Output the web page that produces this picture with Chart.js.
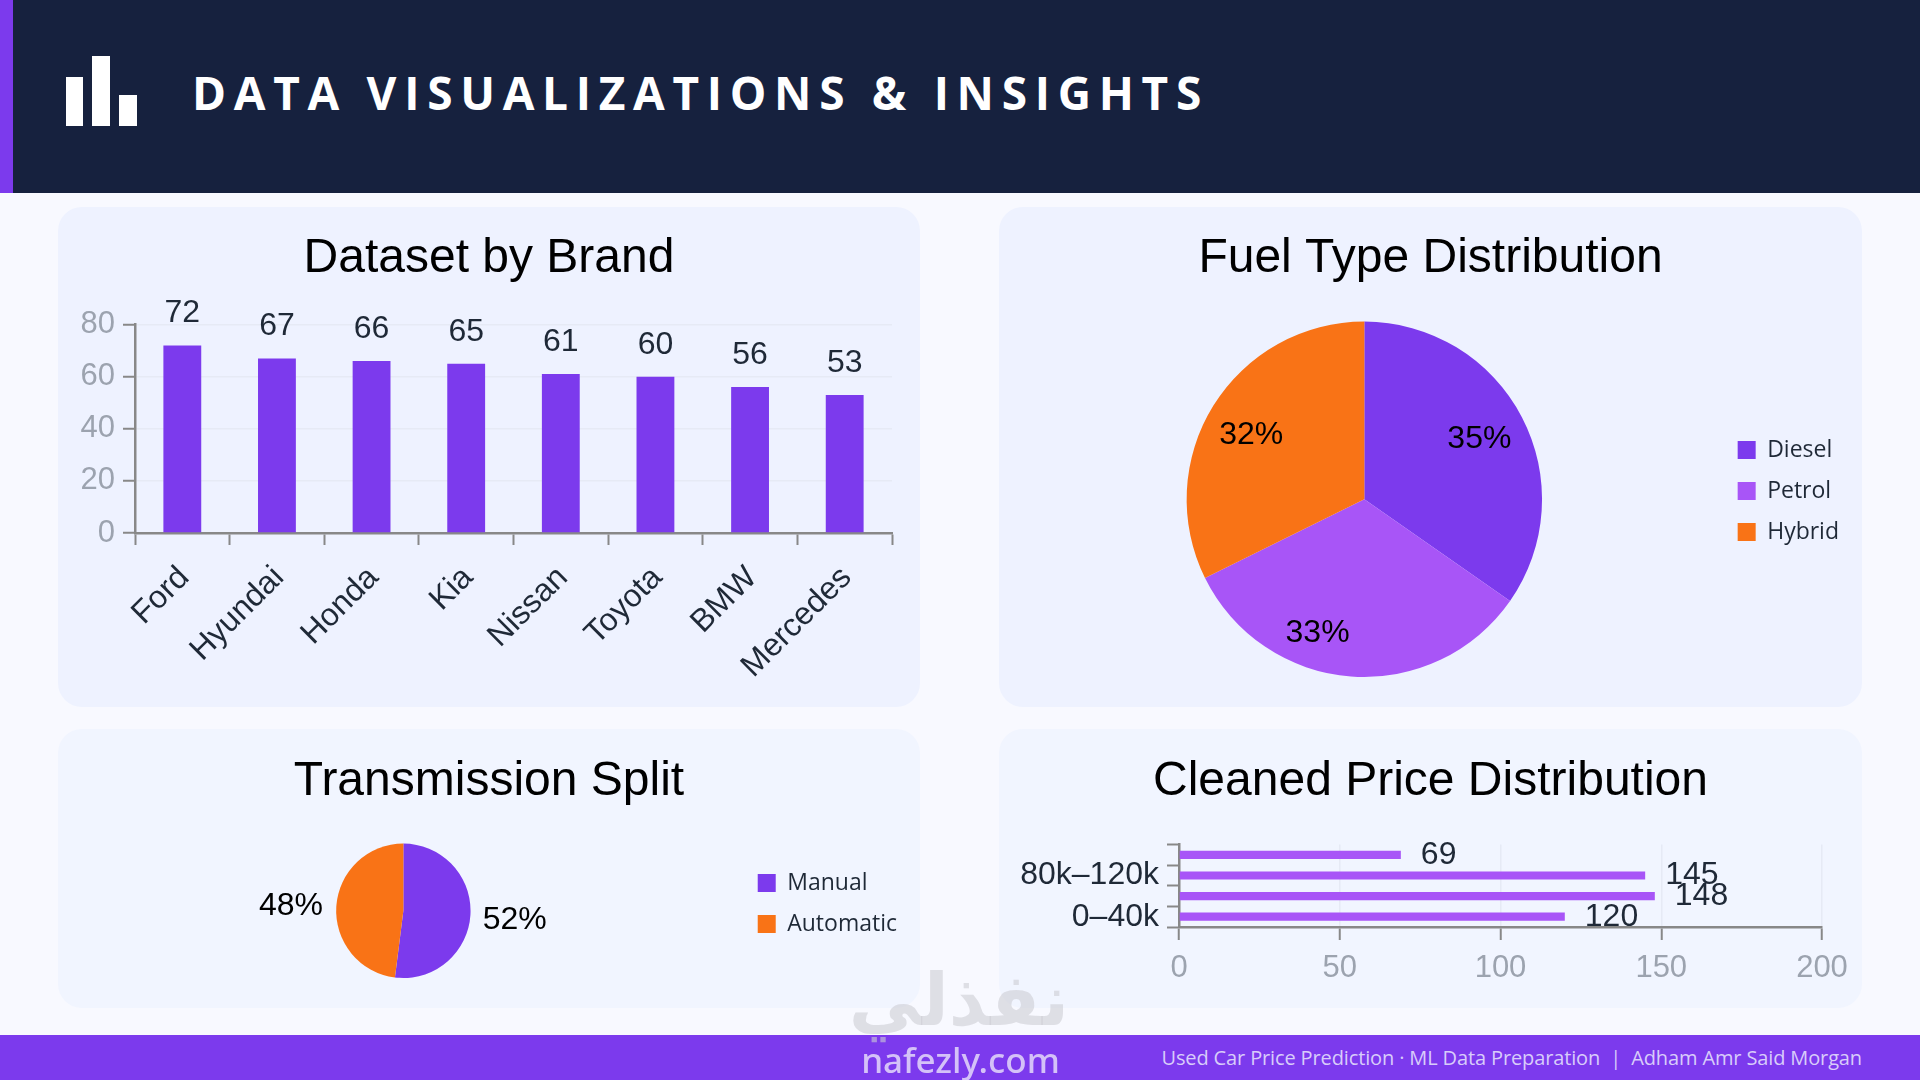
<!DOCTYPE html>
<html lang="en">
<head>
  <meta charset="UTF-8">
  <title>Data Visualizations &amp; Insights</title>
  <script src="https://cdn.jsdelivr.net/npm/chart.js"></script>
  <style>
    html, body { margin: 0; padding: 0; }
    body { width: 1920px; height: 1080px; position: relative; overflow: hidden; background: #F8F9FF; font-family: "Open Sans", sans-serif; }
    .header { position: absolute; left: 0; top: 0; width: 1920px; height: 193px; background: #16213E; }
    .accent { position: absolute; left: 0; top: 0; width: 13px; height: 193px; background: #7C3AED; }
    .icon div { position: absolute; background: #fff; }
    .heading { position: absolute; left: 192px; top: 60px; font-size: 46px; line-height: 64px; font-weight: 700; letter-spacing: 7.7px; color: #fff; white-space: nowrap; }
    .card { position: absolute; background: #EEF2FF; border-radius: 24px; }
    .card.low { background: #F1F5FF; }
    canvas { position: absolute; left: 0; top: 0; }
    .footer { position: absolute; left: 0; top: 1035px; width: 1920px; height: 45px; background: #7C3AED; }
    .credit { position: absolute; right: 58px; top: 9px; font-size: 20px; line-height: 28px; letter-spacing: -0.13px; color: #D8CCFA; white-space: pre; }
    .mark-ar { position: absolute; left: 843px; top: 950px; width: 232px; text-align: center; font-family: "DejaVu Sans", sans-serif; font-weight: bold; font-size: 72px; line-height: 100px; color: rgba(205,205,212,.6); direction: rtl; }
    .mark-en { position: absolute; left: 860px; top: 1039px; width: 201px; text-align: center; font-family: "Noto Sans", sans-serif; font-weight: 500; font-size: 35px; line-height: 42px; color: rgba(222,208,248,.9); white-space: nowrap; }
  </style>
</head>
<body>
  <div class="header">
    <div class="accent"></div>
    <div class="icon">
      <div style="left:66px;top:77px;width:17px;height:49px"></div>
      <div style="left:92px;top:56px;width:18px;height:70px"></div>
      <div style="left:119px;top:95px;width:18px;height:31px"></div>
    </div>
    <div class="heading">DATA VISUALIZATIONS &amp; INSIGHTS</div>
  </div>

  <div class="card" style="left:58px;top:207px;width:862px;height:500px"><canvas id="brandChart" width="862" height="500"></canvas></div>
  <div class="card" style="left:999px;top:207px;width:863px;height:500px"><canvas id="fuelChart" width="863" height="500"></canvas></div>
  <div class="card low" style="left:58px;top:729px;width:862px;height:279px"><canvas id="gearChart" width="862" height="279"></canvas></div>
  <div class="card low" style="left:999px;top:729px;width:863px;height:279px"><canvas id="priceChart" width="863" height="279"></canvas></div>

  <div class="footer">
    <div class="credit">Used Car Price Prediction · ML Data Preparation  |  Adham Amr Said Morgan</div>
  </div>
  <div class="mark-ar">نفذلي</div>
  <div class="mark-en">nafezly.com</div>

  <script>
    const brands = ['Ford', 'Hyundai', 'Honda', 'Kia', 'Nissan', 'Toyota', 'BMW', 'Mercedes'];
    const brandCounts = [72, 67, 66, 65, 61, 60, 56, 53];

    const fuelTypes = ['Diesel', 'Petrol', 'Hybrid'];
    const fuelShares = [34.7, 33, 32.3];

    const gearTypes = ['Manual', 'Automatic'];
    const gearShares = [52, 48];

    const priceBands = ['0–40k', '40k–80k', '80k–120k', '120k+'];
    const priceCounts = [120, 148, 145, 69];

    const PURPLE = '#7C3AED';
    const VIOLET = '#A855F7';
    const ORANGE = '#F97316';
    const AXIS = '#888888';
    const GRID = '#E6EAF5';
    const MUTED = '#9CA3AF';
    const DARK = '#1F2937';
    const FONT = '"Liberation Sans", Arial, sans-serif';

    Chart.defaults.animation = false;
    Chart.defaults.responsive = false;
    Chart.defaults.font.family = FONT;

    function titleOptions(text, top, bottom) {
      return {
        display: true,
        text: text,
        color: '#000000',
        font: { size: 48, weight: 'normal', family: FONT },
        padding: { top: top, bottom: bottom }
      };
    }

    function legendOptions() {
      return {
        position: 'right',
        labels: {
          boxWidth: 18,
          boxHeight: 18,
          padding: 18,
          color: DARK,
          font: { size: 23, family: '"Open Sans", sans-serif' }
        }
      };
    }

    // value labels above / beside the bars
    const barValues = {
      id: 'barValues',
      afterDatasetsDraw(chart) {
        const ctx = chart.ctx;
        const horizontal = chart.options.indexAxis === 'y';
        ctx.save();
        ctx.font = '32px ' + FONT;
        ctx.fillStyle = DARK;
        ctx.textBaseline = 'middle';
        ctx.textAlign = horizontal ? 'left' : 'center';
        chart.getDatasetMeta(0).data.forEach((bar, i) => {
          const v = chart.data.datasets[0].data[i];
          if (horizontal) ctx.fillText(v, bar.x + 20, bar.y);
          else ctx.fillText(v, bar.x, bar.y - 32);
        });
        ctx.restore();
      }
    };

    // percent labels on the pies
    const pieLabels = {
      id: 'pieLabels',
      afterDatasetsDraw(chart, args, opts) {
        const ctx = chart.ctx;
        const meta = chart.getDatasetMeta(0);
        const data = chart.data.datasets[0].data;
        ctx.save();
        ctx.font = '32px ' + FONT;
        ctx.fillStyle = '#000000';
        ctx.textAlign = 'center';
        ctx.textBaseline = 'middle';
        meta.data.forEach((arc, i) => {
          const mid = (arc.startAngle + arc.endAngle) / 2;
          const r = arc.outerRadius * opts.radius;
          const x = arc.x + Math.cos(mid) * r + opts.nudgeX[i];
          const y = arc.y + Math.sin(mid) * r + opts.nudgeY[i];
          ctx.fillText(Math.round(data[i]) + '%', x, y);
        });
        ctx.restore();
      }
    };

    // title stays centred on the card, legend sits lower than chart.js puts it
    const cardLayout = {
      id: 'cardLayout',
      afterLayout(chart, args, opts) {
        chart.titleBlock.left = 0;
        chart.titleBlock.right = chart.width;
        if (opts.legendDy) {
          chart.legend.top += opts.legendDy;
          chart.legend.bottom += opts.legendDy;
        }
      }
    };

    new Chart(document.getElementById('brandChart'), {
      type: 'bar',
      data: {
        labels: brands,
        datasets: [{ data: brandCounts, backgroundColor: PURPLE, barPercentage: 0.4, categoryPercentage: 1 }]
      },
      options: {
        layout: { autoPadding: false, padding: { right: 28 } },
        plugins: {
          legend: { display: false },
          tooltip: { enabled: false },
          title: titleOptions('Dataset by Brand', 23, 37)
        },
        scales: {
          x: {
            afterFit: s => { s.height = 174; },
            grid: { drawOnChartArea: false, tickColor: AXIS, tickLength: 12, tickWidth: 2 },
            border: { color: AXIS, width: 2.5 },
            ticks: { color: DARK, font: { size: 32 }, minRotation: 45, maxRotation: 45, padding: 14, labelOffset: 2, autoSkip: false }
          },
          y: {
            min: 0,
            max: 80,
            afterFit: s => { s.width = 77; },
            grid: { color: GRID, tickColor: AXIS, tickLength: 12, lineWidth: 1.5, tickWidth: 2 },
            border: { color: AXIS, width: 2.5 },
            ticks: { stepSize: 20, color: MUTED, font: { size: 31 }, padding: 8 }
          }
        }
      },
      plugins: [barValues, cardLayout]
    });

    new Chart(document.getElementById('fuelChart'), {
      type: 'pie',
      data: {
        labels: fuelTypes,
        datasets: [{ data: fuelShares, backgroundColor: [PURPLE, VIOLET, ORANGE], borderWidth: 0 }]
      },
      options: {
        layout: { autoPadding: false, padding: { left: 10, right: 13, bottom: 30 } },
        plugins: {
          legend: legendOptions(),
          tooltip: { enabled: false },
          title: titleOptions('Fuel Type Distribution', 23, 34),
          pieLabels: { radius: 0.73, nudgeX: [0, -37, -3], nudgeY: [0, 5, 4] },
          cardLayout: { legendDy: 49 }
        }
      },
      plugins: [pieLabels, cardLayout]
    });

    new Chart(document.getElementById('gearChart'), {
      type: 'pie',
      data: {
        labels: gearTypes,
        datasets: [{ data: gearShares, backgroundColor: [PURPLE, ORANGE], borderWidth: 0 }]
      },
      options: {
        layout: { autoPadding: false, padding: { left: 9, right: 13, bottom: 30 } },
        plugins: {
          legend: legendOptions(),
          tooltip: { enabled: false },
          title: titleOptions('Transmission Split', 24, 33),
          pieLabels: { radius: 1.66, nudgeX: [0, -1], nudgeY: [2, 2] },
          cardLayout: { legendDy: 50 }
        }
      },
      plugins: [pieLabels, cardLayout]
    });

    new Chart(document.getElementById('priceChart'), {
      type: 'bar',
      data: {
        labels: priceBands,
        datasets: [{ data: priceCounts, backgroundColor: VIOLET, barPercentage: 0.4, categoryPercentage: 1 }]
      },
      options: {
        indexAxis: 'y',
        layout: { autoPadding: false, padding: { right: 40 } },
        plugins: {
          legend: { display: false },
          tooltip: { enabled: false },
          title: titleOptions('Cleaned Price Distribution', 24, 34)
        },
        scales: {
          x: {
            min: 0,
            max: 200,
            afterFit: s => { s.height = 81; },
            grid: { color: GRID, tickColor: AXIS, tickLength: 13, lineWidth: 1.5, tickWidth: 2 },
            border: { color: AXIS, width: 2.5 },
            ticks: { stepSize: 50, color: MUTED, font: { size: 31 }, padding: 10, maxRotation: 0 }
          },
          y: {
            reverse: true,
            afterFit: s => { s.width = 180; },
            grid: { drawOnChartArea: false, tickColor: AXIS, tickLength: 12, tickWidth: 2 },
            border: { color: AXIS, width: 2.5 },
            ticks: {
              color: DARK,
              font: { size: 32 },
              padding: 8,
              autoSkip: false,
              // only every other band fits, as in the original
              callback: (value, index) => (index % 2 ? '' : priceBands[index])
            }
          }
        }
      },
      plugins: [barValues, cardLayout]
    });
  </script>
</body>
</html>
